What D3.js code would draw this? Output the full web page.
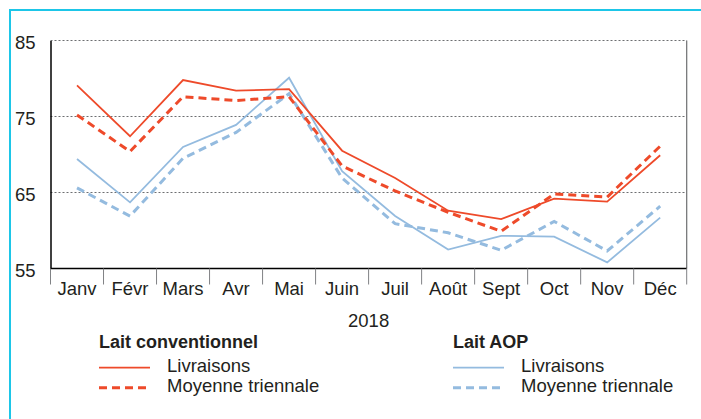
<!DOCTYPE html>
<html>
<head>
<meta charset="utf-8">
<script src="https://cdn.jsdelivr.net/npm/d3@7"></script>
<style>
  body { margin: 0; background: #fff; }
  text { font-family: "Liberation Sans", Arial, sans-serif; fill: #231f20; }
</style>
</head>
<body>
<div id="chart"></div>
<script>
// months of 2018
const months = ["Janv", "Févr", "Mars", "Avr", "Mai", "Juin", "Juil", "Août", "Sept", "Oct", "Nov", "Déc"];

// Lait conventionnel
const convLivraisons = [79.1, 72.4, 79.8, 78.4, 78.6, 70.5, 66.9, 62.6, 61.5, 64.2, 63.8, 69.9];
const convMoyenne = [75.2, 70.4, 77.6, 77.1, 77.6, 68.5, 65.2, 62.4, 59.9, 64.8, 64.4, 71.1];

// Lait AOP
const aopLivraisons = [69.4, 63.7, 71.0, 73.9, 80.1, 67.8, 61.9, 57.5, 59.3, 59.2, 55.8, 61.7];
const aopMoyenne = [65.6, 61.9, 69.5, 72.9, 78.0, 66.9, 60.9, 59.7, 57.4, 61.2, 57.3, 63.2];

const yTicks = [55, 65, 75, 85];

let svgWidth = 701;
let svgHeight = 419;

let margin = { top: 40.5, right: 14.3, bottom: 150.5, left: 50.5 };
let width = svgWidth - margin.left - margin.right;
let height = svgHeight - margin.top - margin.bottom;

let red = "#ee4a2a";
let blue = "#94bbdf";
let fontSize = "18.5px";

let svg = d3.select("#chart")
    .append("svg")
    .attr("width", svgWidth)
    .attr("height", svgHeight);

// cyan frame (top and left only)
svg.append("path")
    .attr("d", "M10,419 V10 H701")
    .attr("fill", "none")
    .attr("stroke", "#1dc6e8")
    .attr("stroke-width", 2);

let chartGroup = svg.append("g")
    .attr("transform", `translate(${margin.left}, ${margin.top})`);

// scales
let xBand = d3.scaleBand().domain(months).range([0, width]);
let x = m => xBand(m) + xBand.bandwidth() / 2;
let y = d3.scaleLinear().domain([55, 85]).range([height, 0]);

// dotted gridlines
chartGroup.append("g")
    .selectAll("line")
    .data(yTicks.filter(t => t > 55))
    .enter()
    .append("line")
    .attr("x1", 0)
    .attr("x2", width)
    .attr("y1", d => y(d))
    .attr("y2", d => y(d))
    .attr("stroke", "#6d6e71")
    .attr("stroke-width", 1)
    .attr("stroke-dasharray", "2,2");

// right border
chartGroup.append("line")
    .attr("x1", width).attr("x2", width)
    .attr("y1", 0).attr("y2", height)
    .attr("stroke", "#6d6e71")
    .attr("stroke-width", 1.2);

// y axis
let leftAxis = d3.axisLeft(y).tickValues(yTicks).tickSize(0).tickPadding(15);
let yAxis = chartGroup.append("g").call(leftAxis);
yAxis.select(".domain").attr("stroke", "#000").attr("stroke-width", 1.5);
yAxis.selectAll("text")
    .attr("font-size", fontSize)
    .attr("dy", "0.35em")
    .attr("y", 2)
    .style("font-family", "Liberation Sans, Arial, sans-serif")
    .attr("fill", "#231f20");

// x axis: ticks between months
let xAxis = chartGroup.append("g")
    .attr("transform", `translate(0, ${height})`);
xAxis.append("line")
    .attr("x1", 0).attr("x2", width)
    .attr("stroke", "#000")
    .attr("stroke-width", 1.5);
xAxis.selectAll(".tick")
    .data(months.map(m => xBand(m)).concat([width]))
    .enter()
    .append("line")
    .attr("x1", d => d).attr("x2", d => d)
    .attr("y1", 0).attr("y2", 16)
    .attr("stroke", "#808285")
    .attr("stroke-width", 1);
xAxis.selectAll(".lbl")
    .data(months)
    .enter()
    .append("text")
    .attr("x", d => x(d))
    .attr("y", 26.5)
    .attr("text-anchor", "middle")
    .attr("font-size", fontSize)
    .text(d => d);

chartGroup.append("text")
    .attr("x", width / 2)
    .attr("y", height + 58)
    .attr("text-anchor", "middle")
    .attr("font-size", fontSize)
    .text("2018");

// lines
let line = d3.line()
    .x((d, i) => x(months[i]))
    .y(d => y(d));

let series = [
    { values: aopMoyenne, color: blue, width: 3, dash: "8,5" },
    { values: aopLivraisons, color: blue, width: 1.8, dash: null },
    { values: convMoyenne, color: red, width: 3, dash: "8,5" },
    { values: convLivraisons, color: red, width: 1.8, dash: null }
];

chartGroup.selectAll(".series")
    .data(series)
    .enter()
    .append("path")
    .attr("d", d => line(d.values))
    .attr("fill", "none")
    .attr("stroke", d => d.color)
    .attr("stroke-width", d => d.width)
    .attr("stroke-dasharray", d => d.dash)
    .attr("stroke-linejoin", "miter");

// legend
let legends = [
    { title: "Lait conventionnel", x: 99, color: red },
    { title: "Lait AOP", x: 453, color: blue }
];

legends.forEach(lg => {
    let g = svg.append("g").attr("transform", `translate(${lg.x}, 0)`);
    g.append("text")
        .attr("x", 0)
        .attr("y", 347.5)
        .attr("font-size", "18px")
        .attr("font-weight", "bold")
        .text(lg.title);
    g.append("line")
        .attr("x1", 0).attr("x2", 51)
        .attr("y1", 367.7).attr("y2", 367.7)
        .attr("stroke", lg.color)
        .attr("stroke-width", 1.8);
    g.append("text")
        .attr("x", 68)
        .attr("y", 371.7)
        .attr("font-size", fontSize)
        .text("Livraisons");
    g.append("line")
        .attr("x1", 0).attr("x2", 51)
        .attr("y1", 387.7).attr("y2", 387.7)
        .attr("stroke", lg.color)
        .attr("stroke-width", 3)
        .attr("stroke-dasharray", "8,5");
    g.append("text")
        .attr("x", 68)
        .attr("y", 391.7)
        .attr("font-size", fontSize)
        .text("Moyenne triennale");
});
</script>
</body>
</html>
